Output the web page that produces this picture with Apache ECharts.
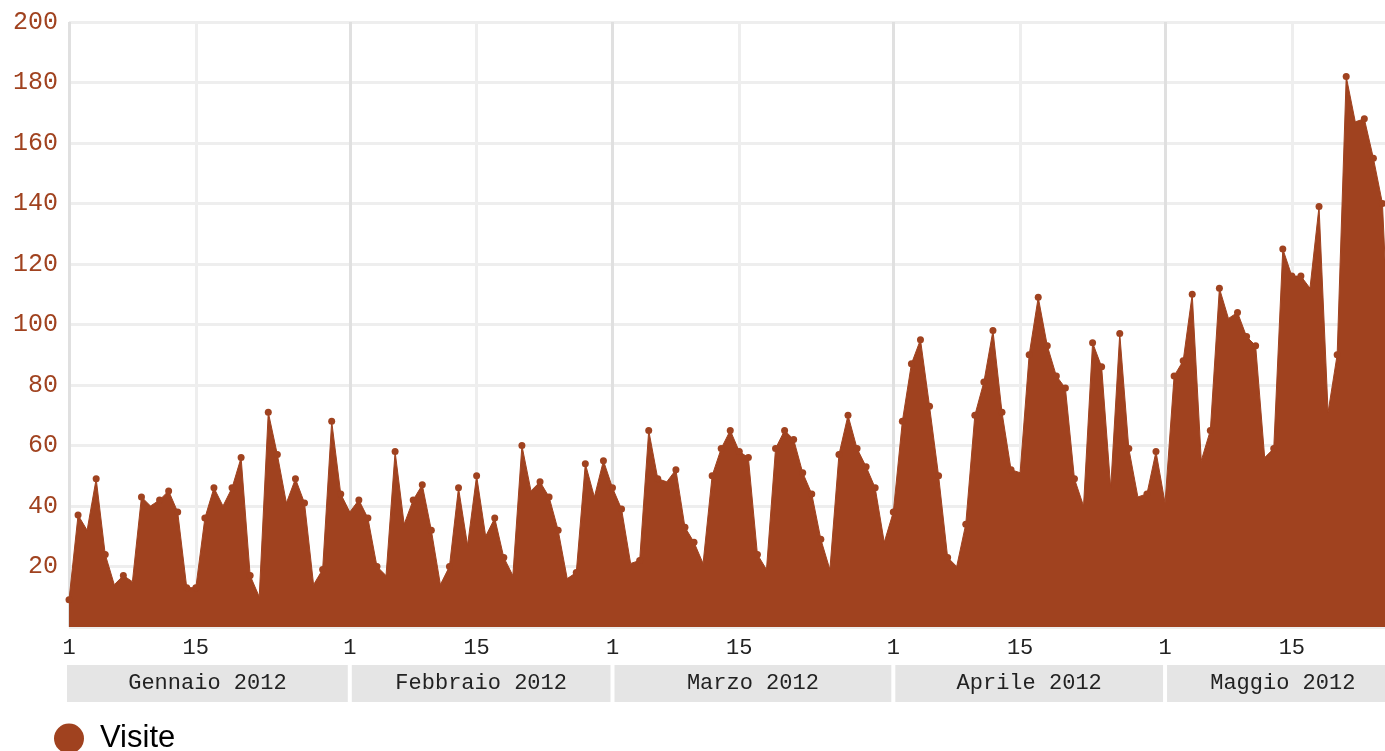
<!DOCTYPE html>
<html>
<head>
<meta charset="utf-8">
<script src="https://cdn.jsdelivr.net/npm/echarts@6/dist/echarts.min.js"></script>
<style>
  html, body { margin: 0; padding: 0; background: #ffffff; }
  #chart { width: 1385px; height: 751px; }
</style>
</head>
<body>
<div id="chart"></div>
<script>
// ---- Data (daily visits, 2012) ----
const monthNames = ['Gennaio 2012', 'Febbraio 2012', 'Marzo 2012', 'Aprile 2012', 'Maggio 2012'];
const visiteGennaio  = [9, 37, 32, 49, 24, 14, 17, 15, 43, 40, 42, 45, 38, 13, 13, 36, 46, 40, 46, 56, 17, 10, 71, 57, 41, 49, 41, 14, 19, 68, 44];
const visiteFebbraio = [38, 42, 36, 20, 17, 58, 34, 42, 47, 32, 14, 20, 46, 27, 50, 30, 36, 23, 17, 60, 45, 48, 43, 32, 16, 18, 54, 43, 55];
const visiteMarzo    = [46, 39, 21, 22, 65, 49, 48, 52, 33, 28, 21, 50, 59, 65, 58, 56, 24, 19, 59, 65, 62, 51, 44, 29, 19, 57, 70, 59, 53, 46, 28];
const visiteAprile   = [38, 68, 87, 95, 73, 50, 23, 20, 34, 70, 81, 98, 71, 52, 51, 90, 109, 93, 83, 79, 49, 40, 94, 86, 46, 97, 59, 43, 44, 58];
const visiteMaggio   = [41, 83, 88, 110, 55, 65, 112, 102, 104, 96, 93, 56, 59, 125, 116, 116, 112, 139, 71, 90, 182, 167, 168, 155, 140, 75];
const tickDays = [1, 15];
const yTicks = { min: 0, max: 200, step: 20 };
const seriesName = 'Visite';

// ---- Build category axis & series from the arrays ----
const monthly = [visiteGennaio, visiteFebbraio, visiteMarzo, visiteAprile, visiteMaggio];
const days = [];
const visits = [];
const monthSpans = [];
monthly.forEach((vals, m) => {
  const start = days.length;
  vals.forEach((v, i) => { days.push(String(i + 1)); visits.push(v); });
  monthSpans.push([start, days.length, monthNames[m]]);
});

const AREA = '#a0421f';
const MONO = '"Liberation Mono", "Courier New", monospace';
const PLOT_W = 1322.5;

const chart = echarts.init(document.getElementById('chart'), null, { renderer: 'canvas' });

chart.setOption({
  animation: false,
  backgroundColor: '#ffffff',
  legend: {
    data: [seriesName],
    left: 49,
    top: 718,
    icon: 'circle',
    itemWidth: 30,
    itemHeight: 30,
    textStyle: { fontFamily: '"Liberation Sans", Arial, sans-serif', fontSize: 31, color: '#000', padding: [0, 0, 0, 11] }
  },
  grid: [
    { left: 69, width: PLOT_W, top: 22, bottom: 124, containLabel: false, outerBoundsMode: 'none' },
    { left: 69, width: PLOT_W, top: 665, height: 37, containLabel: false, outerBoundsMode: 'none' }
  ],
  xAxis: [
    {
      type: 'category',
      gridIndex: 0,
      data: days,
      boundaryGap: false,
      axisLine: { show: false },
      axisTick: { show: false },
      axisLabel: {
        interval: (idx, val) => tickDays.includes(Number(val)),
        margin: 10,
        fontFamily: MONO,
        fontSize: 22,
        color: '#222'
      },
      splitLine: {
        show: true,
        interval: (idx, val) => tickDays.includes(Number(val)),
        lineStyle: { color: ['#e0e0e0', '#eeeeee'], width: 3 }
      }
    },
    {
      type: 'category',
      gridIndex: 1,
      data: days,
      boundaryGap: false,
      show: false
    }
  ],
  yAxis: [
    {
      type: 'value',
      gridIndex: 0,
      min: yTicks.min,
      max: yTicks.max,
      interval: yTicks.step,
      axisLine: { show: false },
      axisTick: { show: false },
      axisLabel: {
        margin: 11,
        fontFamily: MONO,
        fontSize: 25,
        color: AREA,
        formatter: v => (v === 0 ? '' : String(v))
      },
      splitLine: { show: true, lineStyle: { color: '#eeeeee', width: 3 } }
    },
    { type: 'value', gridIndex: 1, min: 0, max: 1, show: false }
  ],
  series: [
    {
      name: seriesName,
      type: 'line',
      xAxisIndex: 0,
      yAxisIndex: 0,
      data: visits,
      showAllSymbol: true,
      symbol: 'circle',
      symbolSize: (val, params) => {
        const i = params.dataIndex;
        const p = visits[i - 1], n = visits[i + 1];
        if (p !== undefined && n !== undefined && val < p && val < n) return 0;
        return 7;
      },
      itemStyle: { color: AREA },
      lineStyle: { color: AREA, width: 1 },
      areaStyle: { color: AREA, opacity: 1 },
      emphasis: { disabled: true }
    },
    {
      name: 'mesi',
      type: 'custom',
      xAxisIndex: 1,
      yAxisIndex: 1,
      silent: true,
      data: monthSpans,
      renderItem: (params, api) => {
        const s = api.value(0), e = api.value(1);
        const p0 = api.coord([s, 1]);
        const p1 = api.coord([e, 0]);
        const x0 = p0[0] + (s === 0 ? -2 : 2);
        const x1 = p1[0] - 2;
        const y0 = p0[1], y1 = p1[1];
        return {
          type: 'group',
          children: [
            { type: 'rect', shape: { x: x0, y: y0, width: x1 - x0, height: y1 - y0 }, style: { fill: '#e5e5e5' } },
            {
              type: 'text',
              style: {
                text: monthSpans[params.dataIndex][2],
                x: (x0 + x1) / 2,
                y: (y0 + y1) / 2,
                align: 'center',
                verticalAlign: 'middle',
                font: '22px ' + MONO,
                fill: '#222'
              }
            }
          ]
        };
      }
    }
  ]
});
</script>
</body>
</html>
